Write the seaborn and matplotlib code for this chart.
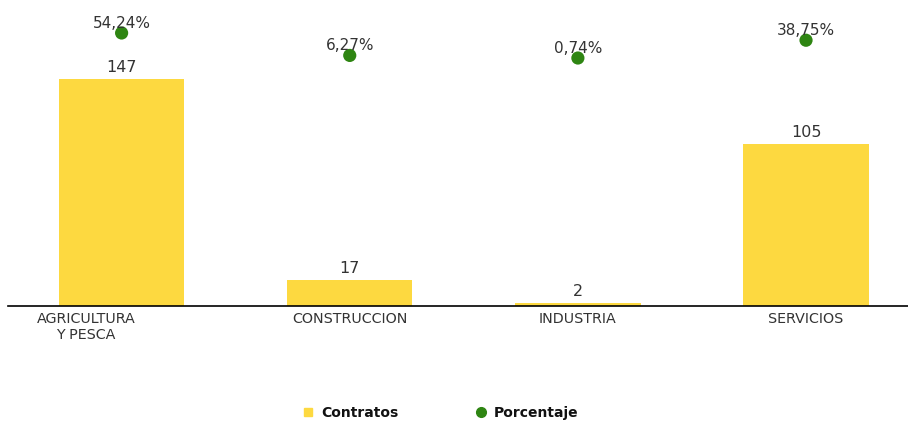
import matplotlib
matplotlib.use("Agg")
import matplotlib.pyplot as plt
import seaborn as sns
import pandas as pd
from matplotlib.lines import Line2D
from matplotlib.transforms import ScaledTranslation

categories = ["AGRICULTURA\nY PESCA", "CONSTRUCCION", "INDUSTRIA", "SERVICIOS"]
contratos = [147, 17, 2, 105]
porcentaje = [54.24, 6.27, 0.74, 38.75]
porcentaje_labels = ["54,24%", "6,27%", "0,74%", "38,75%"]

YELLOW = "#FDD940"
GREEN = "#2E8512"
TEXT = "#333333"

sns.set_theme(style="white")
plt.rcParams["font.family"] = ["DejaVu Sans"]

df = pd.DataFrame({"cat": categories, "contratos": contratos, "porcentaje": porcentaje})

W, H = 908, 423
fig = plt.figure(figsize=(W / 100, H / 100), dpi=100)
ax = fig.add_axes([8 / W, (H - 306) / H, 900 / W, 296 / H])

sns.barplot(data=df, x="cat", y="contratos", color=YELLOW, saturation=1,
            width=0.55, ax=ax, edgecolor="none")
for cont in ax.containers:
    ax.bar_label(cont, labels=[str(v) for v in contratos], padding=3,
                 fontsize=11.5, color=TEXT)

ax.set_ylim(0, 191.7)
ax.set_xlim(-0.498, 3.447)
ax.set_xlabel("")
ax.set_ylabel("")
ax.set_yticks([])
ax.tick_params(axis="x", length=0, pad=4, labelsize=10.3, labelcolor=TEXT)
for s in ["top", "left", "right"]:
    ax.spines[s].set_visible(False)
ax.spines["bottom"].set_color("black")
ax.spines["bottom"].set_linewidth(1.2)

ax2 = ax.twinx()
sns.scatterplot(data=df, x="cat", y="porcentaje", color=GREEN, s=90,
                edgecolor="none", ax=ax2, legend=False, zorder=3)
ax2.set_ylim(-529.5, 103.4)
ax2.set_xlim(-0.498, 3.447)
ax2.set_yticks([])
ax2.set_ylabel("")
ax2.set_xlabel("")
for s in ["top", "left", "right", "bottom"]:
    ax2.spines[s].set_visible(False)
for i, (v, lab) in enumerate(zip(porcentaje, porcentaje_labels)):
    ax2.annotate(lab, (i, v), xytext=(0, 1.5), textcoords="offset points",
                 ha="center", va="bottom", fontsize=11, color=TEXT)

# shift first tick label left like in the reference
labels = ax.get_xticklabels()
labels[0].set_transform(labels[0].get_transform() +
                        ScaledTranslation(-0.355, 0, fig.dpi_scale_trans))

handles = [
    Line2D([], [], marker="s", linestyle="none", color=YELLOW, markersize=6),
    Line2D([], [], marker="o", linestyle="none", color=GREEN, markersize=7),
]
fig.legend(handles, ["Contratos", "Porcentaje"], loc="center",
           bbox_to_anchor=(440 / W, 1 - 413 / H), ncol=2, frameon=False,
           prop={"weight": "bold", "size": 10}, handletextpad=0.4,
           columnspacing=5.5, handlelength=1.0, labelcolor="#111111")

fig.savefig("out.png", dpi=100)
